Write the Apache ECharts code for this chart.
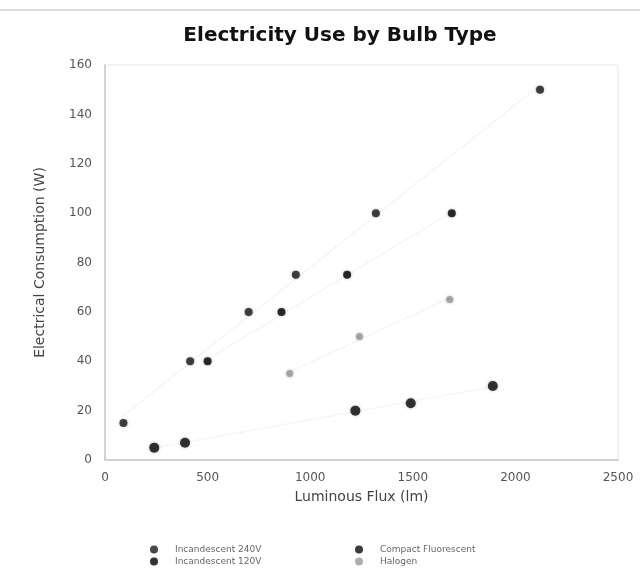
<!DOCTYPE html>
<html><head><meta charset="utf-8">
<script src="https://cdn.jsdelivr.net/npm/echarts@6/dist/echarts.min.js"></script>
<style>html,body{margin:0;padding:0;background:#fff}#c{width:640px;height:582px}</style>
</head><body><div id="c"></div>
<script>
const seriesNames = ['Incandescent 240V', 'Incandescent 120V', 'Compact Fluorescent', 'Halogen'];
const inc240 = [[90, 15], [415, 40], [700, 60], [930, 75], [1320, 100], [2120, 150]];
const inc120 = [[500, 40], [860, 60], [1180, 75], [1690, 100]];
const cfl = [[240, 5], [390, 7], [1220, 20], [1490, 23], [1890, 30]];
const halogen = [[900, 35], [1240, 50], [1680, 65]];
const xTicks = [0, 500, 1000, 1500, 2000, 2500];
const yTicks = [0, 20, 40, 60, 80, 100, 120, 140, 160];

function trend(pts) {
  const n = pts.length;
  let sx = 0, sy = 0, sxx = 0, sxy = 0;
  pts.forEach(p => { sx += p[0]; sy += p[1]; sxx += p[0] * p[0]; sxy += p[0] * p[1]; });
  const b = (n * sxy - sx * sy) / (n * sxx - sx * sx);
  const a = (sy - b * sx) / n;
  const xs = pts.map(p => p[0]);
  const x0 = Math.min(...xs), x1 = Math.max(...xs);
  return [[x0, a + b * x0], [x1, a + b * x1]];
}

const styles = [
  { color: '#1a1a1a', size: 8, symbol: 'circle' },
  { color: '#000000', size: 8, symbol: 'circle' },
  { color: '#0a0a0a', size: 10, symbol: 'circle' },
  { color: '#9a9a9a', size: 7, symbol: 'circle' }
];
const datas = [inc240, inc120, cfl, halogen];

const series = [];
datas.forEach((d, i) => {
  series.push({
    name: seriesNames[i] + ' trend', type: 'line', data: trend(d), symbol: 'none',
    lineStyle: { color: '#ececec', width: 1.5, type: 'dotted' }, silent: true, z: 1
  });
});
datas.forEach((d, i) => {
  series.push({
    name: seriesNames[i], type: 'scatter', data: d, symbol: styles[i].symbol,
    symbolSize: styles[i].size,
    itemStyle: { color: styles[i].color, shadowBlur: 3, shadowColor: 'rgba(0,0,0,0.35)' }, z: 3
  });
});

const chart = echarts.init(document.getElementById('c'));
chart.setOption({
  animation: false,
  backgroundColor: '#fff',
  title: {
    text: 'Electricity Use by Bulb Type', left: 335, top: 21, textAlign: 'center',
    textStyle: { fontFamily: 'DejaVu Sans', fontWeight: 'bold', fontSize: 20, color: '#111' }
  },
  graphic: [{ type: 'line', shape: { x1: 0, y1: 10, x2: 640, y2: 10 }, style: { stroke: '#cfcfcf', lineWidth: 1.5 } }],
  grid: { left: 105, right: 22, top: 65, bottom: 122, show: true, borderColor: '#e6e6e6', borderWidth: 1 },
  xAxis: {
    type: 'value', min: xTicks[0], max: xTicks[xTicks.length - 1], interval: 500,
    name: 'Luminous Flux (lm)', nameLocation: 'middle', nameGap: 30,
    nameTextStyle: { fontFamily: 'DejaVu Sans', fontSize: 14, color: '#444' },
    axisLine: { show: true, lineStyle: { color: '#c8c8c8', width: 1.5 } },
    axisTick: { show: false }, splitLine: { show: false },
    axisLabel: { fontFamily: 'DejaVu Sans', fontSize: 12, color: '#555', margin: 12, formatter: v => String(v) }
  },
  yAxis: {
    type: 'value', min: yTicks[0], max: yTicks[yTicks.length - 1], interval: 20,
    name: 'Electrical Consumption (W)', nameLocation: 'middle', nameGap: 58,
    nameTextStyle: { fontFamily: 'DejaVu Sans', fontSize: 14, color: '#444' },
    axisLine: { show: true, lineStyle: { color: '#c8c8c8', width: 1.5 } },
    axisTick: { show: false }, splitLine: { show: false },
    axisLabel: { fontFamily: 'DejaVu Sans', fontSize: 12, color: '#555', margin: 13 }
  },
  legend: [
    { data: [seriesNames[0], seriesNames[1]], orient: 'vertical', left: 145, top: 540, itemGap: 3,
      itemWidth: 8, itemHeight: 8, textStyle: { fontFamily: 'DejaVu Sans', fontSize: 9, color: '#666', padding: [0, 0, 0, 12] } },
    { data: [seriesNames[2], seriesNames[3]], orient: 'vertical', left: 350, top: 540, itemGap: 3,
      itemWidth: 8, itemHeight: 8, textStyle: { fontFamily: 'DejaVu Sans', fontSize: 9, color: '#666', padding: [0, 0, 0, 12] } }
  ],
  series: series
});
</script></body></html>
